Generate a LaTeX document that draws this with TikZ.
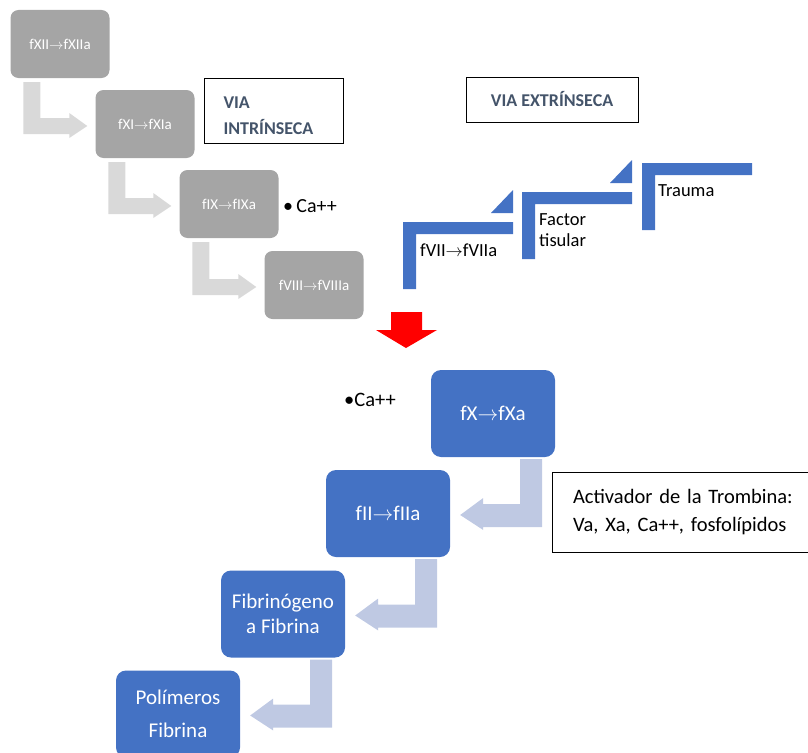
\documentclass[tikz,border=0pt]{standalone}
\usepackage{fontspec}
\setmainfont{Carlito}
\usetikzlibrary{calc}

\definecolor{boxgray}{HTML}{A5A5A5}
\definecolor{arrowgray}{HTML}{D9D9D9}
\definecolor{boxblue}{HTML}{4472C4}
\definecolor{arrowblue}{HTML}{BFC9E3}
\definecolor{titleslate}{HTML}{44546A}

\newcommand{\fto}{$\rightarrow$}

% bent arrow: down from the left of #1, then right into #2
\newcommand{\graystep}[2]{%
	\fill[arrowgray] let \p1=(#1.south west), \p2=(#2.west) in
	(\x1+13,\y1-4) -- (\x1+30,\y1-4) -- (\x1+30,\y2+6)
	-- (\x2-26,\y2+6) -- (\x2-26,\y2+11) -- (\x2-8,\y2-2)
	-- (\x2-26,\y2-14) -- (\x2-26,\y2-10) -- (\x1+13,\y2-10) -- cycle;}
% bent arrow: down from the right of #1, then left into #2
\newcommand{\bluestep}[2]{%
	\fill[arrowblue] let \p1=(#1.south east), \p2=(#2.east) in
	(\x1-35,\y1-2) -- (\x1-13,\y1-2) -- (\x1-13,\y2-13.5)
	-- (\x2+33,\y2-13.5) -- (\x2+33,\y2-16.5) -- (\x2+10,\y2-1.5)
	-- (\x2+33,\y2+15.5) -- (\x2+33,\y2+9.5) -- (\x1-35,\y2+9.5) -- cycle;}

\tikzset{
	graybox/.style={fill=boxgray, rounded corners=8pt, minimum width=99pt,
		minimum height=68pt, inner sep=0pt, text=white,
		font=\fontsize{15}{17}\selectfont},
	bluebox/.style={fill=boxblue, rounded corners=10pt, minimum width=124pt,
		minimum height=87pt, inner sep=0pt, align=center, text=white,
		font=\fontsize{21}{25}\selectfont},
	titlebox/.style={draw=black, line width=1pt, text=titleslate,
		font=\bfseries\fontsize{18}{26}\selectfont},
	plainlabel/.style={inner sep=0pt, font=\fontsize{18.5}{21}\selectfont},
}

\begin{document}
\frenchspacing
\begin{tikzpicture}[x=1pt, y=-1pt]
	\useasboundingbox (0,0) rectangle (808,752);
	%intrinsic cascade
	\node[graybox] (fxii) at (60,44) {fXII\fto fXIIa};
	\node[graybox] (fxi) at (145,124) {fXI\fto fXIa};
	\node[graybox] (fix) at (229,204) {fIX\fto fIXa};
	\node[graybox] (fviii) at (314,285) {fVIII\fto fVIIIa};
	\graystep{fxii}{fxi}
	\graystep{fxi}{fix}
	\graystep{fix}{fviii}
	\node[plainlabel, anchor=base west, font=\fontsize{20}{22}\selectfont] (ca1)
		at (283,212) {\textbullet\,Ca++};
	\node[titlebox, minimum width=139pt, minimum height=65pt, text width=100pt,
		inner xsep=19.5pt, align=left] (intr) at (273.5,110.5)
		{\rule{0pt}{22pt}VIA\\INTRÍNSECA};
	\node[titlebox, minimum width=172pt, minimum height=45pt] (extr)
		at (552,99.5) {VIA EXTRÍNSECA};
	%extrinsic steps
	\foreach \sx/\sy in {403/222, 522/192, 642/163}
	\fill[boxblue] (\sx,\sy) -- ++(110,0) -- ++(0,12) -- ++(-97,0)
	-- ++(0,55) -- ++(-13,0) -- cycle;
	\foreach \sx/\sy in {403/222, 522/192}
	\fill[boxblue] (\sx+88,\sy-9) -- (\sx+110,\sy-9) -- (\sx+110,\sy-32) -- cycle;
	\node[plainlabel, anchor=base west] (fvii) at (420,256) {fVII\fto fVIIa};
	\node[plainlabel, anchor=base west, align=left] (tf) at (539,246) {Factor\\tisular};
	\node[plainlabel, anchor=base west] (trauma) at (658,196) {Trauma};
	%common pathway
	\fill[red] (391,312) -- (422,312) -- (422,330) -- (437,330) -- (406,348)
	-- (376,330) -- (391,330) -- cycle;
	\node[bluebox] (fx) at (493,413.5) {fX\fto fXa};
	\node[bluebox] (fii) at (388,513.5) {fII\fto fIIa};
	\node[bluebox] (fib) at (283,614) {Fibrinógeno\\a Fibrina};
	\node[bluebox] (pol) at (178,714) {Polímeros\\[8pt]Fibrina};
	\bluestep{fx}{fii}
	\bluestep{fii}{fib}
	\bluestep{fib}{pol}
	\node[plainlabel, anchor=base west, font=\fontsize{20.5}{22}\selectfont] (ca2)
		at (344,406) {\textbullet Ca++};
	\node[draw=black, line width=1pt, anchor=north west, minimum width=256pt,
		minimum height=80pt, text width=230pt, inner xsep=20.5pt, align=left,
		font=\fontsize{20.5}{28}\selectfont] (act) at (552,472)
		{Activador de la Trombina:\\Va, Xa, Ca++, fosfolípidos};
\end{tikzpicture}
\end{document}
